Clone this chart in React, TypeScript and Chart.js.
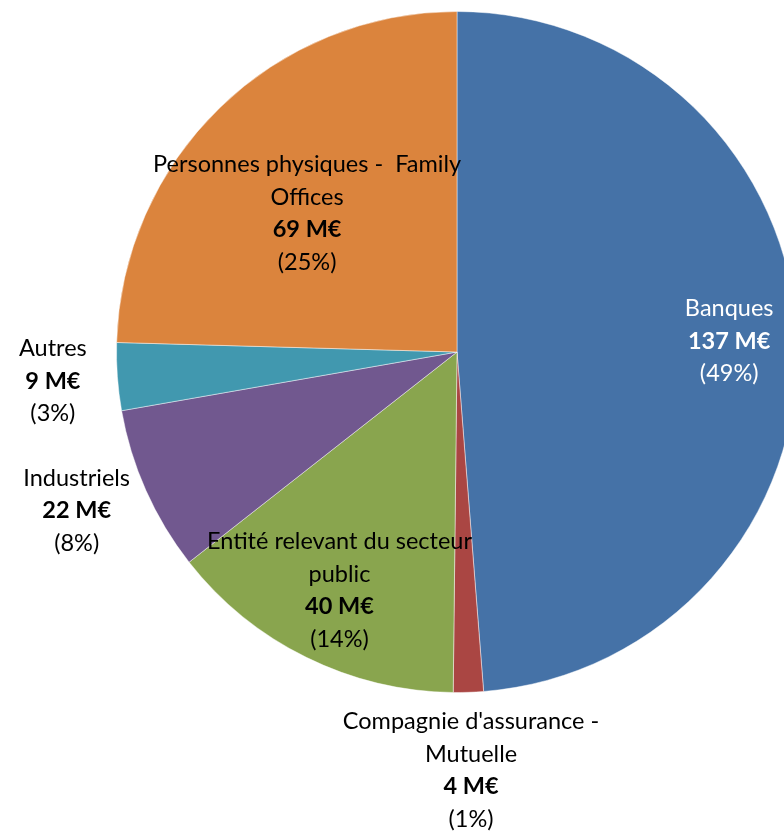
import React, { useEffect, useRef } from "react";
import { Chart, registerables } from "chart.js";

Chart.register(...registerables);

const categories = [
  "Banques",
  "Compagnie d'assurance - Mutuelle",
  "Entité relevant du secteur public",
  "Industriels",
  "Autres",
  "Personnes physiques - Family Offices",
];
const categoryLines = [
  ["Banques"],
  ["Compagnie d'assurance -", "Mutuelle"],
  ["Entité relevant du secteur", "public"],
  ["Industriels"],
  ["Autres"],
  ["Personnes physiques -  Family", "Offices"],
];
const valuesMEUR = [137, 4, 40, 22, 9, 69];
const colors = ["#4572A7", "#AA4643", "#89A54E", "#71588F", "#4198AF", "#DB843D"];
const labelColors = ["#ffffff", "#000000", "#000000", "#000000", "#000000", "#000000"];
const labelRadiusFactor = [0.8, 1.23, 0.78, 1.21, 1.19, 0.6];
const labelAngleOffsetDeg = [0, 0, 0, 1.4, 0, -3];

const FONT = "Lato, 'Open Sans', sans-serif";

const labelPlugin = {
  id: "sliceLabels",
  afterDatasetsDraw(chart: any) {
    const ctx = chart.ctx;
    const meta = chart.getDatasetMeta(0);
    const data = chart.data.datasets[0].data as number[];
    const total = data.reduce((a, b) => a + b, 0);
    const lineH = 32.5;
    meta.data.forEach((arc: any, i: number) => {
      const { x, y, startAngle, endAngle, outerRadius } = arc.getProps(
        ["x", "y", "startAngle", "endAngle", "outerRadius"],
        true
      );
      const mid = (startAngle + endAngle) / 2 + (labelAngleOffsetDeg[i] * Math.PI) / 180;
      const r = outerRadius * labelRadiusFactor[i];
      const cx = x + Math.cos(mid) * r;
      const cy = y + Math.sin(mid) * r;
      const lines: { t: string; bold: boolean }[] = [];
      categoryLines[i].forEach((t) => lines.push({ t, bold: false }));
      lines.push({ t: `${data[i]} M€`, bold: true });
      lines.push({ t: `(${Math.round((data[i] / total) * 100)}%)`, bold: false });
      const n = lines.length;
      ctx.save();
      ctx.textAlign = "center";
      ctx.textBaseline = "middle";
      ctx.fillStyle = labelColors[i];
      lines.forEach((ln, k) => {
        ctx.font = `${ln.bold ? "bold " : ""}23.5px ${FONT}`;
        const ly = cy + (k - (n - 1) / 2) * lineH;
        ctx.fillText(ln.t, cx, ly);
      });
      ctx.restore();
    });
  },
};

export default function App() {
  const ref = useRef<HTMLCanvasElement>(null);
  useEffect(() => {
    if (!ref.current) return;
    const chart = new Chart(ref.current, {
      type: "pie",
      data: {
        labels: categories,
        datasets: [
          {
            data: valuesMEUR,
            backgroundColor: colors,
            borderColor: "rgba(255,255,255,0.45)",
            borderWidth: 1,
          },
        ],
      },
      options: {
        animation: false,
        responsive: false,
        maintainAspectRatio: false,
        layout: { padding: { left: 116, right: 12, top: 11, bottom: 139 } },
        plugins: {
          legend: { display: false },
          tooltip: { enabled: false },
        },
      },
      plugins: [labelPlugin],
    });
    return () => chart.destroy();
  }, []);
  return (
    <div
      style={{
        position: "fixed",
        left: 0,
        top: 0,
        width: 784,
        height: 832,
        overflow: "hidden",
        background: "#fff",
      }}
    >
      <canvas ref={ref} width={810} height={832} style={{ width: 810, height: 832 }} />
    </div>
  );
}
